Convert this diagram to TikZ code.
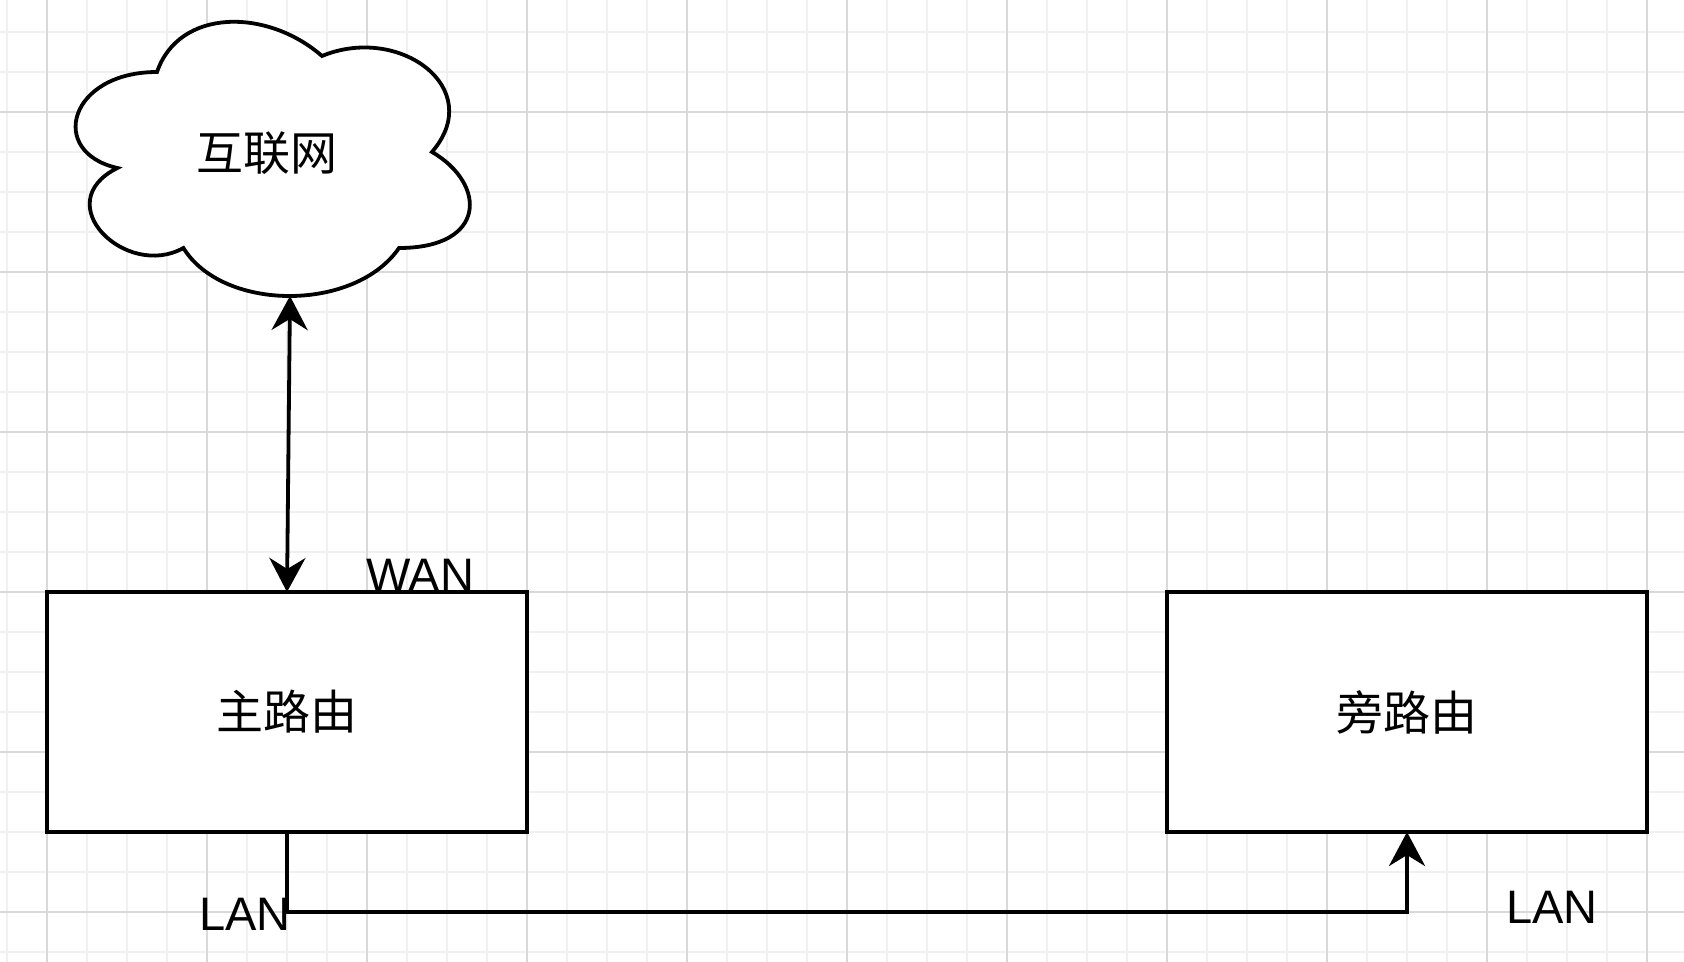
\documentclass[tikz,border=0pt]{standalone}
\usepackage{fontspec}
\setmainfont{Liberation Sans}
\newfontfamily\cjk{Noto Sans CJK SC}
\usetikzlibrary{arrows.meta}
\begin{document}
\begin{tikzpicture}[x=0.5pt,y=-0.5pt,
  minorgrid/.style={draw=black!6,line width=1pt},
  majorgrid/.style={draw=black!15,line width=1pt},
  shapeline/.style={draw=black,line width=1.9pt},
  boxnode/.style={shapeline,fill=white,minimum width=240pt,minimum height=120pt,inner sep=0pt,outer sep=0pt,font=\cjk\fontsize{23.5}{28}\selectfont},
  cjklabel/.style={inner sep=0pt,font=\cjk\fontsize{23.5}{28}\selectfont},
  portlabel/.style={inner sep=0pt,font=\fontsize{23.5}{28}\selectfont},
  conn/.style={draw=black,line width=1.9pt}
]
\useasboundingbox (0,0) rectangle (1684,962);
\fill[white] (0,0) rectangle (1684,962);
% grid
\foreach \k in {0,...,42}{
  \pgfmathtruncatemacro{\gx}{7+40*\k}
  \draw[minorgrid] (\gx,0) -- (\gx,962);
}
\foreach \k in {1,...,24}{
  \pgfmathtruncatemacro{\gy}{-8+40*\k}
  \draw[minorgrid] (0,\gy) -- (1684,\gy);
}
\foreach \gx in {47,207,...,1687}{
  \draw[majorgrid] (\gx,0) -- (\gx,962);
}
\foreach \gy in {112,272,...,912}{
  \draw[majorgrid] (0,\gy) -- (1684,\gy);
}
% cloud
\draw[shapeline,fill=white] (157,72)
  .. controls (69,72) and (47,152) .. (117.4,168)
  .. controls (47,203.2) and (126.2,280) .. (183.4,248)
  .. controls (223,312) and (355,312) .. (399,248)
  .. controls (487,248) and (487,184) .. (432,152)
  .. controls (487,88) and (399,24) .. (322,56)
  .. controls (267,8) and (179,8) .. cycle;
\node[cjklabel] (cloud) at (267,153) {互联网};
\coordinate (cbot) at (290,296);
% boxes
\node[boxnode] (main) at (287,712) {主路由};
\node[boxnode] (side) at (1407,712) {旁路由};
% connectors
\coordinate (lanrow) at (0,912);
\draw[conn,{Stealth[length=17pt,width=18pt,inset=5.5pt]}-{Stealth[length=17pt,width=18pt,inset=5.5pt]}] (main.north) -- (cbot);
\draw[conn,-{Stealth[length=17pt,width=18pt,inset=5.5pt]}] (main.south) -- (main.south |- lanrow) -| (side.south);
% port labels
\node[portlabel,anchor=base] (wan) at (420,591) {WAN};
\node[portlabel,anchor=base east] (lan1) at (291,930) {LAN};
\node[portlabel,anchor=base] (lan2) at (1552,923) {LAN};
\end{tikzpicture}
\end{document}
